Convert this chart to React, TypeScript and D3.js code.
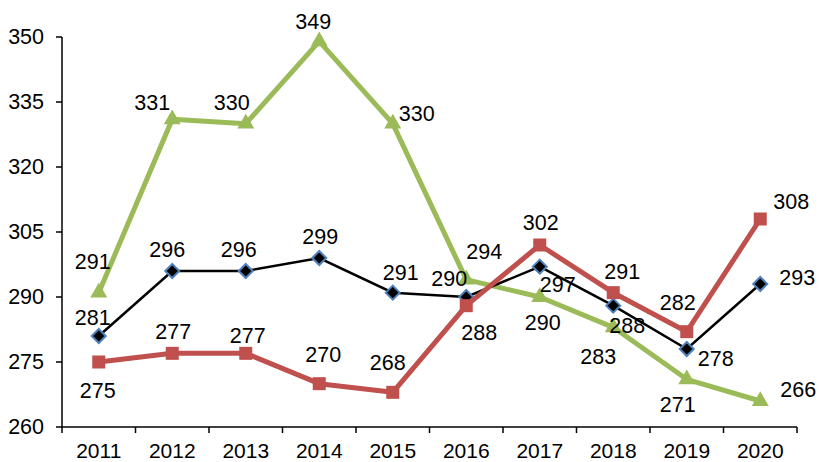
import React from "react";
import * as d3 from "d3";

const years = ["2011", "2012", "2013", "2014", "2015", "2016", "2017", "2018", "2019", "2020"];
const blackValues = [281, 296, 296, 299, 291, 290, 297, 288, 278, 293];
const redValues = [275, 277, 277, 270, 268, 288, 302, 291, 282, 308];
const greenValues = [291, 331, 330, 349, 330, 294, 290, 283, 271, 266];
const yTicks = [260, 275, 290, 305, 320, 335, 350];

// label offsets (dx, dy) relative to the point
const blackLabelOffsets = [[-6, -18], [-5, -21], [-7, -21], [1, -21], [8, -20], [-17, -18], [18, 18], [14, 20], [29, 10], [37, -6]];
const redLabelOffsets = [[-1, 29], [1, -21], [2, -17], [4, -29], [-5, -29], [13, 27], [1, -22], [9, -21], [-9, -29], [31, -17]];
const greenLabelOffsets = [[-6, -31], [-20, -16], [-14, -21], [-6, -19], [24, -10], [18, -28], [3, 26], [-15, 30], [-9, 26], [38, -11]];

const W = 819, H = 462;
const left = 62, right = 797, top = 37, bottom = 427;
const FS = 21.5;

export default function App() {
  const x = d3.scaleBand<string>().domain(years).range([left, right]);
  const y = d3.scaleLinear().domain([260, 350]).range([bottom, top]);
  const cx = (i: number) => (x(years[i]) as number) + x.bandwidth() / 2;
  const line = d3.line<number>().x((_, i) => cx(i)).y((d) => y(d));
  const font = "'Liberation Sans', Arial, sans-serif";

  const labels = (vals: number[], offs: number[][], key: string) =>
    vals.map((v, i) => (
      <text key={key + i} x={cx(i) + offs[i][0]} y={y(v) + offs[i][1]} textAnchor="middle" dominantBaseline="central" fontSize={FS} fill="#000">
        {v}
      </text>
    ));

  return (
    <svg width={W} height={H} style={{ position: "absolute", left: 0, top: 0, fontFamily: font }}>
      <rect width={W} height={H} fill="#fff" />
      {/* axes */}
      <line x1={left} x2={left} y1={top} y2={bottom} stroke="#000" strokeWidth={1.5} />
      <line x1={left} x2={right} y1={bottom} y2={bottom} stroke="#000" strokeWidth={1.5} />
      {yTicks.map((t) => (
        <g key={"yt" + t}>
          <line x1={left - 6} x2={left} y1={y(t)} y2={y(t)} stroke="#000" strokeWidth={1.5} />
          <text x={44} y={y(t)} textAnchor="end" dominantBaseline="central" fontSize={FS}>{t}</text>
        </g>
      ))}
      {years.map((yr, i) => (
        <line key={"xt" + yr} x1={left + i * x.bandwidth()} x2={left + i * x.bandwidth()} y1={bottom} y2={bottom + 6} stroke="#000" strokeWidth={1.5} />
      ))}
      <line x1={right} x2={right} y1={bottom} y2={bottom + 6} stroke="#000" strokeWidth={1.5} />
      {years.map((yr, i) => (
        <text key={"xl" + yr} x={cx(i)} y={458} textAnchor="middle" fontSize={21}>{yr}</text>
      ))}

      {/* green series */}
      <path d={line(greenValues) || ""} fill="none" stroke="#9BBB59" strokeWidth={5} strokeLinejoin="round" />
      {greenValues.map((v, i) => (
        <path key={"gm" + i} d={d3.symbol(d3.symbolTriangle, 125)() || ""} transform={`translate(${cx(i)},${y(v)})`} fill="#9BBB59" />
      ))}

      {/* black series */}
      <path d={line(blackValues) || ""} fill="none" stroke="#000" strokeWidth={2.5} />
      {blackValues.map((v, i) => (
        <path key={"bm" + i} d="M0,-7L7,0L0,7L-7,0Z" transform={`translate(${cx(i)},${y(v)})`} fill="#000" stroke="#4F81BD" strokeWidth={2} />
      ))}

      {/* red series */}
      <path d={line(redValues) || ""} fill="none" stroke="#C0504D" strokeWidth={5} strokeLinejoin="round" />
      {redValues.map((v, i) => (
        <rect key={"rm" + i} x={cx(i) - 6.5} y={y(v) - 6.5} width={13} height={13} fill="#C0504D" />
      ))}

      {labels(greenValues, greenLabelOffsets, "gl")}
      {labels(blackValues, blackLabelOffsets, "bl")}
      {labels(redValues, redLabelOffsets, "rl")}
    </svg>
  );
}
